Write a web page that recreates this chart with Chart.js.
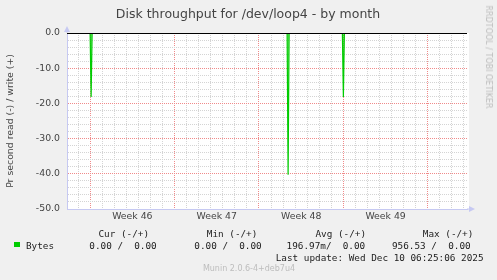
<!DOCTYPE html>
<html>
<head>
<meta charset="utf-8">
<script src="https://cdn.jsdelivr.net/npm/chart.js@4/dist/chart.umd.min.js"></script>
<style>
  html, body { margin: 0; padding: 0; background: #f0f0f0; }
  #wrap { position: relative; width: 497px; height: 280px; overflow: hidden; }
  canvas { position: absolute; left: 0; top: 0; }
  .t { position: absolute; white-space: pre; line-height: 12px; }
  .mono { font-family: 'DejaVu Sans Mono', monospace; font-size: 9.33px; color: #222; }
  .wm { font-family: 'DejaVu Sans', sans-serif; font-size: 8px; color: #bdbdbd; }
</style>
</head>
<body>
<div id="wrap">
  <canvas id="chart" width="497" height="280"></canvas>
</div>
<script>
/* DATOS (lecturas de la imagen) */

// Horas desde el inicio del gráfico (1 px ~ 2 h) y bytes leídos (negativo = lectura)
const sampleHours = [0, 46, 48, 50, 438, 440, 442, 548, 550, 552, 796];
const readBytes   = [0, 0, -18.2, 0, 0, -40.3, 0, 0, -18.2, 0, 0];

// Inicio de cada semana (horas) y etiquetas del eje X
const weekStarts = [46, 214, 382, 550, 718];
const weekLabels = ['Week 46', 'Week 47', 'Week 48', 'Week 49'];

// Etiquetas del eje Y
const yLabelValues = [0, -10, -20, -30, -40, -50];

// Leyenda inferior
const legendHeads = ['Cur (-/+)', 'Min (-/+)', 'Avg (-/+)', 'Max (-/+)'];
const legendVals  = ['0.00 /  0.00', '0.00 /  0.00', '196.97m/  0.00', '956.53 /  0.00'];

const COLORS = {
  green:    '#00cc00',
  greenFill:'rgba(0, 204, 0, 0.5)',
  gridMinor:'#d4d4d4',
  gridMajor:'#f08a8a',
  axis:     '#c6c9f2',
  text:     '#444444',
};

const X_MAX = 796;
const weekCenters = weekLabels.map((_, i) => weekStarts[i] + 84);
const dayLines = [];
for (let h = weekStarts[0] % 24; h <= X_MAX; h += 24) dayLines.push(h);
const yTicks = [];
for (let v = -50; v <= 0; v += 2) yTicks.push(v);

/* PLUGIN: fondo, línea del cero y flechas de los ejes */
const muninLook = {
  id: 'muninLook',
  beforeDraw(chart) {
    const { ctx, chartArea: a } = chart;
    ctx.save();
    ctx.fillStyle = '#f0f0f0';
    ctx.fillRect(0, 0, chart.width, chart.height);
    ctx.fillStyle = '#ffffff';
    ctx.fillRect(a.left, a.top, a.right - a.left + 2, a.bottom - a.top);
    ctx.restore();
  },
  afterDatasetsDraw(chart) {
    const { ctx, chartArea: a, scales } = chart;
    const y0 = Math.round(scales.y.getPixelForValue(0)) + 0.5;
    ctx.save();
    ctx.strokeStyle = '#000000';
    ctx.lineWidth = 1;
    ctx.beginPath();
    ctx.moveTo(a.left, y0);
    ctx.lineTo(a.right, y0);
    ctx.stroke();

    // flechas (arriba del eje Y, derecha del eje X)
    ctx.fillStyle = COLORS.axis;
    const xl = a.left;
    ctx.beginPath();
    ctx.moveTo(xl - 3, a.top - 1);
    ctx.lineTo(xl + 3, a.top - 1);
    ctx.lineTo(xl, a.top - 7);
    ctx.closePath();
    ctx.fill();
    ctx.fillRect(xl - 0.5, a.top - 4, 1, 4);
    const yb = a.bottom;
    ctx.beginPath();
    ctx.moveTo(a.right + 2, yb - 3);
    ctx.lineTo(a.right + 2, yb + 3);
    ctx.lineTo(a.right + 8, yb);
    ctx.closePath();
    ctx.fill();
    ctx.fillRect(a.right, yb - 0.5, 3, 1);
    ctx.restore();
  },
};

Chart.defaults.font.family = "'DejaVu Sans', sans-serif";
Chart.defaults.font.size = 9.33;
Chart.defaults.color = COLORS.text;

new Chart(document.getElementById('chart'), {
  type: 'line',
  data: {
    datasets: [{
      label: 'Bytes',
      data: sampleHours.map((h, i) => ({ x: h, y: readBytes[i] })),
      borderColor: COLORS.green,
      backgroundColor: COLORS.greenFill,
      borderWidth: 1.2,
      pointRadius: 0,
      tension: 0,
      fill: 'origin',
    }],
  },
  options: {
    responsive: false,
    animation: false,
    devicePixelRatio: 1,
    // el título se centra en todo el ancho; el hueco derecho lo ocupa el eje 'margen'
    layout: { padding: { left: 0, right: 1, top: 0, bottom: 0 } },
    plugins: {
      legend: { display: false },
      tooltip: { enabled: false },
      title: {
        display: true,
        text: 'Disk throughput for /dev/loop4 - by month',
        color: COLORS.text,
        font: { size: 12.5, weight: 'normal' },
        padding: { top: 7, bottom: 11 },
      },
    },
    scales: {
      x: {
        type: 'linear',
        min: 0,
        max: X_MAX,
        afterFit: (s) => { s.height = 71; },
        afterBuildTicks: (s) => {
          s.ticks = [...dayLines, ...weekCenters].sort((a, b) => a - b).map(v => ({ value: v }));
        },
        grid: {
          drawTicks: false,
          color: (c) => {
            const v = c.tick && c.tick.value;
            if (weekCenters.includes(v)) return 'transparent';
            return weekStarts.includes(v) ? COLORS.gridMajor : COLORS.gridMinor;
          },
        },
        border: { color: COLORS.axis, width: 1, dash: [1, 1] },
        ticks: {
          autoSkip: false,
          maxRotation: 0,
          padding: 2,
          color: COLORS.text,
          callback: (v) => {
            const i = weekCenters.indexOf(v);
            return i >= 0 ? weekLabels[i] : '';
          },
        },
      },
      y: {
        min: -50,
        max: 0,
        afterFit: (s) => { s.width = 67; },
        afterBuildTicks: (s) => { s.ticks = yTicks.map(v => ({ value: v })); },
        grid: {
          drawTicks: false,
          color: (c) => {
            const v = c.tick && c.tick.value;
            return yLabelValues.includes(v) ? COLORS.gridMajor : COLORS.gridMinor;
          },
        },
        border: { color: COLORS.axis, width: 1, dash: [1, 1] },
        ticks: {
          autoSkip: false,
          padding: 7,
          color: COLORS.text,
          callback: (v) => yLabelValues.includes(v) ? v.toFixed(1) : '',
        },
        title: {
          display: true,
          text: 'Pr second read (-) / write (+)',
          color: COLORS.text,
          padding: { top: 4.5, bottom: 0 },
        },
      },
      margen: {
        position: 'right',
        min: -50,
        max: 0,
        afterFit: (s) => { s.width = 29; },
        grid: { display: false, drawTicks: false },
        border: { display: false },
        ticks: { display: false },
      },
    },
  },
  plugins: [muninLook],
});

/* LEYENDA Y TEXTOS INFERIORES (texto real en HTML) */
const wrap = document.getElementById('wrap');
function addText(txt, cls, left, top, extra) {
  const d = document.createElement('div');
  d.className = 't ' + cls;
  d.textContent = txt;
  d.style.left = left + 'px';
  d.style.top = top + 'px';
  if (extra) Object.assign(d.style, extra);
  wrap.appendChild(d);
  return d;
}

const headLeft = [98.5, 206.8, 315.5, 422.8];
const valLeft  = [89.3, 194.3, 286.6, 392];
legendHeads.forEach((h, i) => addText(h, 'mono', headLeft[i], 227.5));
legendVals.forEach((v, i) => addText(v, 'mono', valLeft[i], 239.8));
addText('Bytes', 'mono', 26, 239.8);

const sw = document.createElement('div');
Object.assign(sw.style, { position: 'absolute', left: '14px', top: '241.5px', width: '5.5px', height: '5.5px', background: COLORS.green });
wrap.appendChild(sw);

addText('Last update: Wed Dec 10 06:25:06 2025', 'mono', 0, 252.1, { left: 'auto', right: '13.5px' });
addText('Munin 2.0.6-4+deb7u4', 'wm', 249, 269.3, { transform: 'translate(-50%, -50%)' });
addText('RRDTOOL / TOBI OETIKER', 'wm', 488, 56.5, { transform: 'translate(-50%, -50%) rotate(90deg)' });
</script>
</body>
</html>
